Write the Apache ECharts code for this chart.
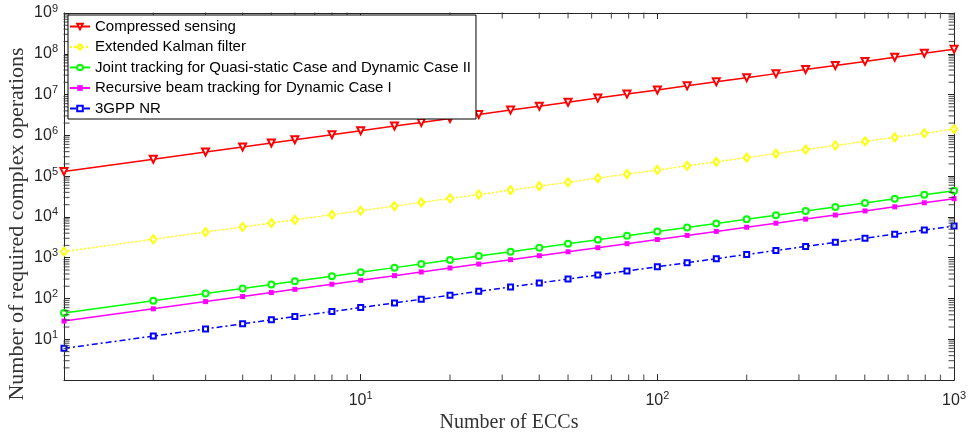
<!DOCTYPE html>
<html>
<head>
<meta charset="utf-8">
<script src="https://cdn.jsdelivr.net/npm/echarts@6/dist/echarts.min.js"></script>
<style>
html,body{margin:0;padding:0;background:#fff;}
#c{width:969px;height:438px;}
</style>
</head>
<body>
<div id="c"></div>
<script>
// Number of ECCs (x values)
const ecc = [1,2,3,4,5,6,8,10,13,16,20,25,32,40,50,63,79,100,126,158,200,251,316,398,501,631,794,1000];

const compressedSensing = [1.3e5,2.6e5,3.9e5,5.2e5,6.5e5,7.8e5,1.04e6,1.3e6,1.69e6,2.08e6,2.6e6,3.25e6,4.16e6,5.2e6,6.5e6,8.19e6,1.027e7,1.3e7,1.638e7,2.054e7,2.6e7,3.263e7,4.108e7,5.174e7,6.513e7,8.203e7,1.032e8,1.3e8];
const extendedKalman = [1420,2840,4260,5680,7100,8520,11360,14200,18460,22720,28400,35500,45440,56800,71000,89460,112180,142000,178920,224360,284000,356420,448720,565160,711420,896020,1127480,1420000];
const jointTracking = [44,88,132,176,220,264,352,440,572,704,880,1100,1408,1760,2200,2772,3476,4400,5544,6952,8800,11044,13904,17512,22044,27764,34936,44000];
const recursiveBeam = [28,56,84,112,140,168,224,280,364,448,560,700,896,1120,1400,1764,2212,2800,3528,4424,5600,7028,8848,11144,14028,17668,22232,28000];
const gppNR = [6,12,18,24,30,36,48,60,78,96,120,150,192,240,300,378,474,600,756,948,1200,1506,1896,2388,3006,3786,4764,6000];

const seriesNames = [
  'Compressed sensing',
  'Extended Kalman filter',
  'Joint tracking for Quasi-static Case and Dynamic Case II',
  'Recursive beam tracking for Dynamic Case I',
  '3GPP NR'
];

// minor tick positions (log axes)
const minorTicksX = [2,3,4,5,6,7,8,9,20,30,40,50,60,70,80,90,200,300,400,500,600,700,800,900];
const minorTicksY = [2,3,4,5,6,7,8,9,20,30,40,50,60,70,80,90,200,300,400,500,600,700,800,900,
  2e3,3e3,4e3,5e3,6e3,7e3,8e3,9e3,2e4,3e4,4e4,5e4,6e4,7e4,8e4,9e4,2e5,3e5,4e5,5e5,6e5,7e5,8e5,9e5,
  2e6,3e6,4e6,5e6,6e6,7e6,8e6,9e6,2e7,3e7,4e7,5e7,6e7,7e7,8e7,9e7,2e8,3e8,4e8,5e8,6e8,7e8,8e8,9e8];

const X_MIN = 1, X_MAX = 1000, Y_MIN = 1, Y_MAX = 1e9;

const axisColor = '#262626';
const sans = 'Liberation Sans, Arial, Helvetica, sans-serif';
const serif = 'Liberation Serif, Times New Roman, serif';

function expLabel(v){
  if (v <= 1.0001) return '';
  const e = Math.round(Math.log10(v));
  return '{b|10}{s|' + e + '}';
}
const richLabel = {
  b: {fontSize: 16, fontFamily: sans, color: axisColor, lineHeight: 20, verticalAlign: 'middle'},
  s: {fontSize: 11, fontFamily: sans, color: axisColor, lineHeight: 11, verticalAlign: 'top'}
};

function pairs(ys){ return ecc.map(function(x,i){ return [x, ys[i]]; }); }

const chart = echarts.init(document.getElementById('c'), null, {renderer: 'canvas'});

const baseAxisLine = {show: true, lineStyle: {color: axisColor, width: 1}};

function tickSeries(data, size, offset){
  return {
    type: 'scatter', silent: true, clip: false, z: 6,
    symbol: 'rect', symbolSize: size, symbolOffset: offset,
    itemStyle: {color: '#3a3a3a'},
    data: data
  };
}

const option = {
  animation: false,
  backgroundColor: '#fff',
  grid: {left: 64, right: 14, top: 13, bottom: 51, containLabel: false},
  legend: {
    data: seriesNames,
    orient: 'vertical',
    left: 68,
    top: 15,
    z: 8,
    backgroundColor: '#fff',
    borderColor: '#000',
    borderWidth: 1,
    borderRadius: 0,
    padding: [4, 5, 3, 1],
    itemGap: 5.5,
    itemWidth: 20,
    itemHeight: 7,
    textStyle: {fontSize: 15, fontFamily: sans, color: '#000', lineHeight: 14}
  },
  xAxis: [
    {
      type: 'log', logBase: 10, min: X_MIN, max: X_MAX, splitNumber: 3,
      position: 'bottom',
      axisLine: baseAxisLine,
      axisTick: {show: true, inside: true, length: 6, lineStyle: {color: axisColor}},
      axisLabel: {formatter: expLabel, rich: richLabel, margin: 10, showMinLabel: true, showMaxLabel: true},
      splitLine: {show: false},
      name: 'Number of ECCs',
      nameLocation: 'middle',
      nameGap: 29,
      nameTextStyle: {fontFamily: serif, fontSize: 20, color: '#333', verticalAlign: 'top'}
    },
    {
      type: 'log', logBase: 10, min: X_MIN, max: X_MAX, splitNumber: 3,
      position: 'top',
      axisLine: baseAxisLine,
      axisTick: {show: true, inside: true, length: 6, lineStyle: {color: axisColor}},
      axisLabel: {show: false},
      splitLine: {show: false}
    }
  ],
  yAxis: [
    {
      type: 'log', logBase: 10, min: Y_MIN, max: Y_MAX, splitNumber: 9,
      position: 'left',
      axisLine: baseAxisLine,
      axisTick: {show: true, inside: true, length: 6, lineStyle: {color: axisColor}},
      axisLabel: {formatter: expLabel, rich: richLabel, margin: 6, showMinLabel: true, showMaxLabel: true},
      splitLine: {show: false}
    },
    {
      type: 'log', logBase: 10, min: Y_MIN, max: Y_MAX, splitNumber: 9,
      position: 'right',
      axisLine: baseAxisLine,
      axisTick: {show: true, inside: true, length: 6, lineStyle: {color: axisColor}},
      axisLabel: {show: false},
      splitLine: {show: false}
    }
  ],
  graphic: [
    {
      type: 'text',
      x: 17, y: 224,
      rotation: Math.PI / 2,
      style: {
        text: 'Number of required complex operations',
        font: '22px ' + serif,
        fill: '#333',
        align: 'center',
        verticalAlign: 'middle'
      }
    }
  ],
  series: [
    {
      name: seriesNames[0], type: 'line', data: pairs(compressedSensing),
      symbol: 'emptyTriangle', symbolRotate: 180, symbolSize: 7,
      lineStyle: {color: '#ff0000', width: 1.5, type: 'solid'},
      itemStyle: {color: '#ff0000', borderWidth: 2},
      z: 5
    },
    {
      name: seriesNames[1], type: 'line', data: pairs(extendedKalman),
      symbol: 'emptyDiamond', symbolSize: [6, 8],
      lineStyle: {color: '#ffff00', width: 1.5, type: [2, 2]},
      itemStyle: {color: '#ffff00', borderWidth: 1.5},
      z: 4
    },
    {
      name: seriesNames[2], type: 'line', data: pairs(jointTracking),
      symbol: 'emptyCircle', symbolSize: 6,
      lineStyle: {color: '#00ff00', width: 1.5, type: 'solid'},
      itemStyle: {color: '#00ff00', borderWidth: 1.5},
      z: 3
    },
    {
      name: seriesNames[3], type: 'line', data: pairs(recursiveBeam),
      symbol: 'rect', symbolSize: 5,
      lineStyle: {color: '#ff00ff', width: 1.5, type: 'solid'},
      itemStyle: {color: '#ff00ff'},
      z: 3
    },
    {
      name: seriesNames[4], type: 'line', data: pairs(gppNR),
      symbol: 'emptyRect', symbolSize: 5,
      lineStyle: {color: '#0000ff', width: 1.5, type: [6, 3, 2, 3]},
      itemStyle: {color: '#0000ff', borderWidth: 1.5},
      z: 3
    },
    // minor ticks, placed through the axes' own log scales
    tickSeries(minorTicksX.map(function(v){ return [v, Y_MIN]; }), [1.2, 6], [0, -2.5]),
    tickSeries(minorTicksX.map(function(v){ return [v, Y_MAX]; }), [1.2, 6], [0, 2.5]),
    tickSeries(minorTicksY.map(function(v){ return [X_MIN, v]; }), [6, 1.2], [2.5, 0]),
    tickSeries(minorTicksY.map(function(v){ return [X_MAX, v]; }), [6, 1.2], [-2.5, 0])
  ]
};

chart.setOption(option);
</script>
</body>
</html>
